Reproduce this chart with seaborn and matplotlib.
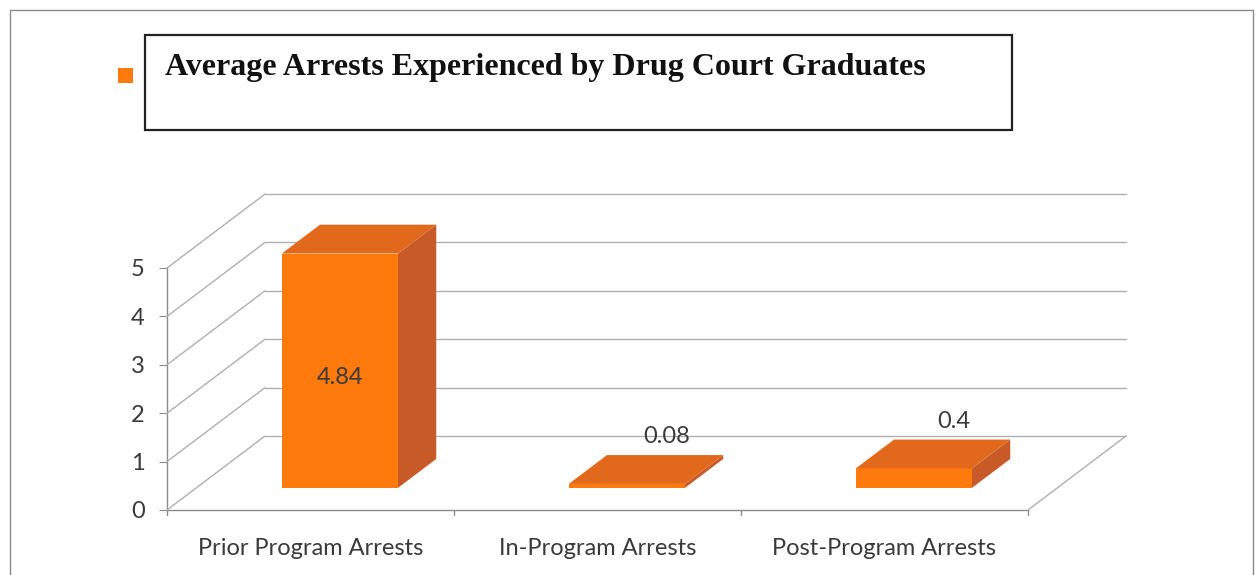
import matplotlib
matplotlib.use("Agg")
import matplotlib.pyplot as plt
import matplotlib.transforms as mtransforms
from matplotlib.patches import Polygon, Rectangle
import seaborn as sns
import pandas as pd

# Data
categories = ["Prior Program Arrests", "In-Program Arrests", "Post-Program Arrests"]
values = [4.84, 0.08, 0.4]
value_labels = ["4.84", "0.08", "0.4"]
y_ticks = [0, 1, 2, 3, 4, 5]
series_name = "Average Arrests Experienced by Drug Court Graduates"

# Colours for the faces of the 3D-looking bars
FRONT = "#FF7A0C"
TOP = "#E2691B"
SIDE = "#C75A27"
GRID = "#B0B0B0"
TEXT = "#3A3A3A"

DPI = 100
W, H = 1257, 575
fig = plt.figure(figsize=(W / DPI, H / DPI), dpi=DPI)
sns.set_style("white")
plt.rcParams["font.family"] = ["Lato", "DejaVu Sans"]

# front plane of the plot box in pixels
x0, x1 = 167, 1028
yb, yt = 510, 268
ax = fig.add_axes([x0 / W, (H - yb) / H, (x1 - x0) / W, (yb - yt) / H])
ax.set_xlim(-0.5, 2.5)
ax.set_ylim(0, 5)

# full depth of the box and the depth slice occupied by bars (pixels)
DX, DY = 98, 74
D_FRONT, D_BACK = 0.30, 0.69


def shifted(frac):
    return ax.transData + mtransforms.ScaledTranslation(
        DX * frac / DPI, DY * frac / DPI, fig.dpi_scale_trans)


back = shifted(1.0)

# back wall gridlines, side wall diagonals, floor
for v in y_ticks:
    ax.plot([-0.5, 2.5], [v, v], color=GRID, lw=1.0, transform=back,
            clip_on=False, zorder=1)
    p0 = ax.transData.transform((-0.5, v))
    line = plt.Line2D([p0[0], p0[0] + DX], [p0[1], p0[1] + DY],
                      color=GRID, lw=1.0, transform=None, zorder=1)
    fig.add_artist(line)
p0 = ax.transData.transform((2.5, 0))
fig.add_artist(plt.Line2D([p0[0], p0[0] + DX], [p0[1], p0[1] + DY],
                          color=GRID, lw=1.0, transform=None, zorder=1))

# front faces drawn with seaborn, then pushed back into the box
df = pd.DataFrame({"category": categories, "value": values})
sns.barplot(data=df, x="category", y="value", color=FRONT, saturation=1,
            width=0.405, ax=ax, zorder=3)
front_t = shifted(D_FRONT)
bars = list(ax.patches)
for bar in bars:
    bar.set_transform(front_t)
    bar.set_edgecolor("none")
    bar.set_clip_on(False)

# top and side faces of each bar
dd = D_BACK - D_FRONT
for bar, val, lab in zip(bars, values, value_labels):
    bx, bw, bh = bar.get_x(), bar.get_width(), bar.get_height()
    corners = front_t.transform([(bx, 0), (bx + bw, 0), (bx + bw, bh), (bx, bh)])
    (lx, by), (rx, _), (_, ty), _ = corners
    ox, oy = DX * dd, DY * dd
    top = Polygon([(lx, ty), (rx, ty), (rx + ox, ty + oy), (lx + ox, ty + oy)],
                  closed=True, facecolor=TOP, edgecolor="none",
                  transform=None, zorder=4)
    side = Polygon([(rx, by), (rx + ox, by + oy), (rx + ox, ty + oy), (rx, ty)],
                   closed=True, facecolor=SIDE, edgecolor="none",
                   transform=None, zorder=4)
    fig.add_artist(side)
    fig.add_artist(top)
    # value labels
    if val > 2:
        fig.text((lx + rx) / 2 / W, ((by + ty) / 2 - 7) / H, lab,
                 ha="center", va="center", fontsize=17, color=TEXT)
    else:
        fig.text(((lx + rx) / 2 + 40) / W, (ty + oy + 8) / H, lab,
                 ha="center", va="bottom", fontsize=17, color=TEXT)

# axes styling
for s in ["top", "right"]:
    ax.spines[s].set_visible(False)
for s in ["left", "bottom"]:
    ax.spines[s].set_color("#8C8C8C")
    ax.spines[s].set_linewidth(1.0)
ax.set_yticks(y_ticks)
ax.set_yticklabels([str(t) for t in y_ticks], fontsize=17, color=TEXT)
ax.set_xticks([0, 1, 2])
ax.set_xticklabels(categories, fontsize=17, color=TEXT)
ax.tick_params(axis="y", length=6, color="#8C8C8C", pad=10, left=True)
ax.tick_params(axis="x", length=0, pad=20)
ax.set_xlabel("")
ax.set_ylabel("")
for xb in [-0.5, 0.5, 1.5, 2.5]:
    ax.plot([xb, xb], [0, -0.1], color="#8C8C8C", lw=1.0, clip_on=False)
ax.patch.set_alpha(0)

# outer chart frame
fig.add_artist(Rectangle((10 / W, -0.1), (1243 / W), (H - 10) / H + 0.1,
                         transform=fig.transFigure, fill=False,
                         edgecolor="#8A8A8A", lw=1.0))

# legend box with the series name
fig.add_artist(Rectangle((145 / W, (H - 130) / H), (867 / W), (95 / H),
                         transform=fig.transFigure, fill=False,
                         edgecolor="#222222", lw=1.6))
fig.add_artist(Rectangle((118 / W, (H - 83) / H), (15 / W), (15 / H),
                         transform=fig.transFigure, facecolor=FRONT,
                         edgecolor="none"))
fig.text(165 / W, (H - 68) / H, series_name, ha="left", va="center",
         fontsize=23, fontweight="bold", family=["Liberation Serif"],
         color="#111111")

fig.savefig("out.png", dpi=DPI, facecolor="white")
